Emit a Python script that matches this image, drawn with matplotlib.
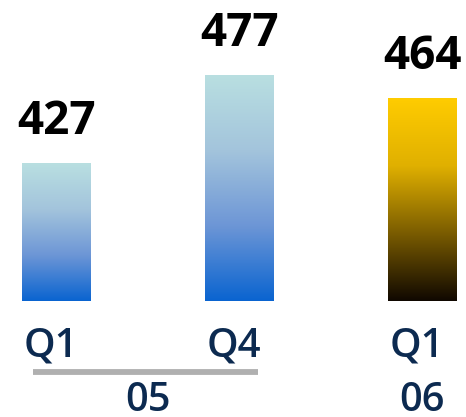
import numpy as np
import matplotlib.pyplot as plt
from matplotlib.colors import LinearSegmentedColormap
from matplotlib import transforms

quarters = ['Q1', 'Q4', 'Q1']
values = [427, 477, 464]
years = ['05', '06']
year_members = [[0, 1], [2]]

NAVY = '#0c2a50'
blue_cmap = LinearSegmentedColormap.from_list('blue', ['#0a64d0', '#6d96d6', '#a3c4dc', '#b9dfe1'])
gold_cmap = LinearSegmentedColormap.from_list('gold', ['#100800', '#7a5c00', '#e0b000', '#ffcc00'])
bar_cmaps = [blue_cmap, blue_cmap, gold_cmap]

base = 348.8
width = 0.377

fig = plt.figure(figsize=(4.66, 4.17), dpi=100)
ax = fig.add_axes([0, 0, 1, 1])
ax.set_xlim(-0.309, 2.238)
ax.set_ylim(282.7, 519.6)
ax.axis('off')

grad = np.linspace(0, 1, 256).reshape(-1, 1)
for i, (v, cmap) in enumerate(zip(values, bar_cmaps)):
    left, right = i - width / 2, i + width / 2
    rect = plt.Rectangle((left, base), width, v - base, facecolor='none', edgecolor='none')
    ax.add_patch(rect)
    im = ax.imshow(grad, cmap=cmap, origin='lower', aspect='auto',
                   extent=(left, right, base, v), interpolation='bilinear')
    im.set_clip_path(rect)
    ax.annotate(str(v), (i, v), xytext=(0, 21), textcoords='offset points',
                ha='center', va='baseline', fontsize=33, fontweight='bold',
                family='Open Sans', color='black')

trans = transforms.blended_transform_factory(ax.transData, ax.transAxes)
for i, q in enumerate(quarters):
    ax.text(i - 0.03, 0.144, q, transform=trans, ha='center', va='baseline',
            fontsize=29, fontweight='semibold', family='Open Sans', color=NAVY)

for yr, members in zip(years, year_members):
    mid = np.mean(members)
    ax.text(mid, 0.014, yr, transform=trans, ha='center', va='baseline',
            fontsize=28.5, fontweight='semibold', family='Open Sans', color=NAVY)
    if len(members) > 1:
        ax.plot([members[0] - 0.128, members[-1] + 0.1], [0.108, 0.108],
                transform=trans, color='#b0b0b0', lw=4.2, solid_capstyle='butt')

fig.savefig('out.png', dpi=100)
